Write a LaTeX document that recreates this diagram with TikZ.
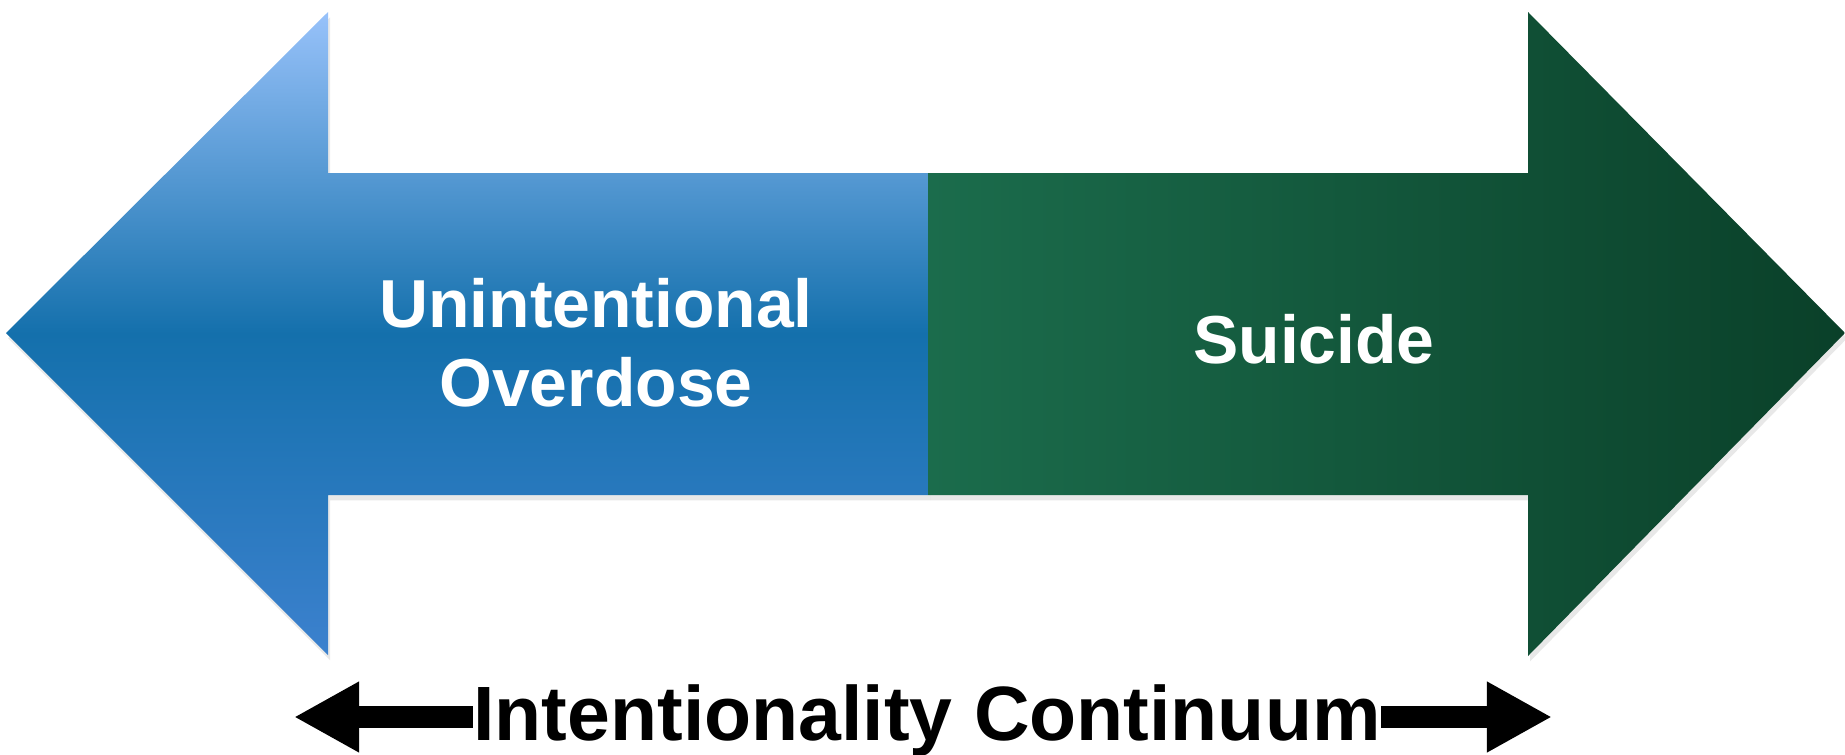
\documentclass[tikz,border=0pt]{standalone}
\usepackage{fontspec}
\setmainfont{Liberation Sans}
\usepackage{tikz}
\usetikzlibrary{arrows.meta,shadows}

\begin{document}
\begin{tikzpicture}[x=0.01cm,y=-0.01cm]

% Colori
\definecolor{bluTop}{HTML}{98C2FA}
\definecolor{bluMid}{HTML}{1470AC}
\definecolor{bluBot}{HTML}{3C81CE}
\definecolor{verSx}{HTML}{1B6C4C}
\definecolor{verDx}{HTML}{0A4029}

% Stili
\tikzset{
  ombra/.style={drop shadow={opacity=0.18, shadow xshift=0.6pt, shadow yshift=-1.5pt}},
  etichetta/.style={text=white, align=center, font=\fontsize{19.3}{22.5}\selectfont\bfseries},
  freccina/.style={line width=0.22cm, -{Triangle[length=0.65cm, width=0.66cm]}}
}

% Area del disegno
\useasboundingbox (0,0) rectangle (1845,754);

% Freccia sinistra (blu, sfumatura verticale)
\shade[ombra, top color=bluTop, bottom color=bluBot, middle color=bluMid]
(6,333) -- (328,12) -- (328,173) -- (928,173) -- (928,495) -- (328,495) -- (328,655) -- cycle;

% Freccia destra (verde, sfumatura orizzontale)
\shade[ombra, left color=verSx, right color=verDx]
(928,173) -- (1528,173) -- (1528,12) -- (1845,333) -- (1528,656) -- (1528,495) -- (928,495) -- cycle;

% Testi nelle frecce
\node[etichetta] (overdose) at (596,343) {Unintentional\\Overdose};
\node[etichetta] (suicidio) at (1314,339) {Suicide};

% Continuum in basso
\node[font=\fontsize{21.9}{26}\selectfont\bfseries, inner sep=0pt, anchor=base] (continuum) at (927,740) {Intentionality Continuum};
\coordinate (puntaSx) at (294,717);
\coordinate (puntaDx) at (1552,717);
\draw[freccina] (continuum.west |- puntaSx) -- (puntaSx);
\draw[freccina] (continuum.east |- puntaDx) -- (puntaDx);

\end{tikzpicture}
\end{document}
